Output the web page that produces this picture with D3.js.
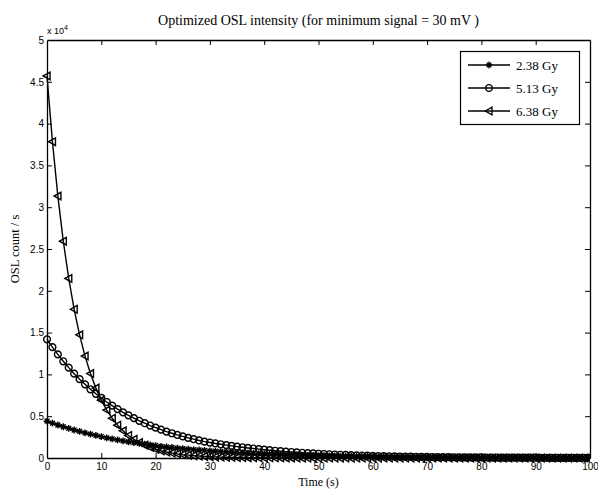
<!DOCTYPE html>
<html><head><meta charset="utf-8">
<script src="https://cdn.jsdelivr.net/npm/d3@7"></script>
<style>body{margin:0;background:#fff}svg{display:block}</style>
</head><body>
<svg id="c" width="598" height="491"></svg>
<script>
// ---- data ----
const timeSteps = d3.range(0, 101, 1); // seconds, one sample per second
const seriesNames = ["2.38 Gy", "5.13 Gy", "6.38 Gy"];
const gy238 = [4400,4167,3946,3737,3539,3351,3174,3005,2846,2695,2552,2417,2289,2168,2053,1944,1841,1743,1651,1563,1480,1402,1328,1257,1191,1128,1068,1011,958,907,859,813,770,729,691,654,619,587,556,526,498,472,447,423,401,380,360,340,322,305,289,274,259,246,233,220,209,197,187,177,168,159,150,142,135,128,121,114,108,103,97,92,87,82,78,74,70,66,63,59,56,53,50,48,45,43,40,38,36,34,32,31,29,27,26,25,23,22,21,20,19];
const gy513 = [14200,13260,12390,11570,10810,10090,9430,8810,8220,7680,7180,6700,6260,5850,5460,5100,4770,4450,4160,3880,3630,3390,3160,2960,2760,2580,2410,2250,2100,1960,1850,1740,1640,1540,1450,1360,1280,1200,1130,1060,990,930,870,815,765,715,670,625,585,545,510,476,445,415,388,362,338,316,295,275,257,240,224,209,195,182,170,159,148,138,129,120,112,105,98,91,85,79,74,69,64,60,56,52,49,46,43,40,37,35,33,30,28,26,25,23,21,20,19,17,16];
const gy638 = [45700,37840,31330,25940,21480,17790,14730,12190,10100,8360,6920,5730,4750,3930,3250,2690,2230,1850,1530,1270,1050,870,720,595,493,408,338,280,232,192,159,132,109,90,75,62,51,42,35,29,24,20,17,14,11,9,8,7,5,4,4,3,3,2,2,2,1,1,1,1,1,1,1,0,0,0,0,0,0,0,0,0,0,0,0,0,0,0,0,0,0,0,0,0,0,0,0,0,0,0,0,0,0,0,0,0,0,0,0,0,0];
const xTicks = [0,10,20,30,40,50,60,70,80,90,100];
const yTicks = [0,5000,10000,15000,20000,25000,30000,35000,40000,45000,50000];
const yTickLabels = ["0","0.5","1","1.5","2","2.5","3","3.5","4","4.5","5"];
const titleText = "Optimized OSL intensity (for minimum signal = 30 mV )";
const xLabel = "Time (s)";
const yLabel = "OSL count / s";

// ---- layout ----
const L = 47, R = 590, T = 40, B = 458;
const svg = d3.select("#c");
const x = d3.scaleLinear().domain([0,100]).range([L,R]);
const y = d3.scaleLinear().domain([0,50000]).range([B,T]);
const sans = "Liberation Sans, Arial, sans-serif";
const serif = "Liberation Serif, Times New Roman, serif";

// axes frame
const tickLen = 5;
const gx = svg.append("g").attr("transform",`translate(0,${B})`)
  .call(d3.axisBottom(x).tickValues(xTicks).tickSizeInner(-tickLen).tickSizeOuter(0).tickPadding(5));
const gxt = svg.append("g").attr("transform",`translate(0,${T})`)
  .call(d3.axisTop(x).tickValues(xTicks).tickSizeInner(-tickLen).tickSizeOuter(0).tickFormat(""));
const gy = svg.append("g").attr("transform",`translate(${L},0)`)
  .call(d3.axisLeft(y).tickValues(yTicks).tickSizeInner(-tickLen).tickSizeOuter(0).tickPadding(3)
    .tickFormat((d,i)=>yTickLabels[i]));
const gyr = svg.append("g").attr("transform",`translate(${R},0)`)
  .call(d3.axisRight(y).tickValues(yTicks).tickSizeInner(-tickLen).tickSizeOuter(0).tickFormat(""));
[gx,gxt,gy,gyr].forEach(g=>{
  g.selectAll(".domain").attr("stroke","#000").attr("stroke-width",1.3);
  g.selectAll(".tick line").attr("stroke","#000");
  g.selectAll("text").attr("font-family",sans).attr("font-size",10).attr("fill","#000");
});
gx.selectAll(".tick line").filter(d=>d===0||d===100).remove();
gxt.selectAll(".tick line").filter(d=>d===0||d===100).remove();
gy.selectAll(".tick line").filter(d=>d===0||d===50000).remove();
gyr.selectAll(".tick line").filter(d=>d===0||d===50000).remove();

// exponent label
const ex = svg.append("text").attr("x",L).attr("y",T-6).attr("font-family",sans).attr("font-size",9);
ex.append("tspan").text("x 10");
ex.append("tspan").attr("dy",-4).attr("font-size",7).text("4");

// titles
svg.append("text").attr("x",(L+R)/2).attr("y",25).attr("text-anchor","middle")
  .attr("font-family",serif).attr("font-size",14).text(titleText);
svg.append("text").attr("x",(L+R)/2).attr("y",486).attr("text-anchor","middle")
  .attr("font-family",serif).attr("font-size",12).text(xLabel);
svg.append("text").attr("transform",`translate(19,${(T+B)/2}) rotate(-90)`).attr("text-anchor","middle")
  .attr("font-family",serif).attr("font-size",12.5).text(yLabel);

// markers
function starPath(s){const r=s;const a=r*0.707;return `M${-r},0L${r},0M0,${-r}L0,${r}M${-a},${-a}L${a},${a}M${-a},${a}L${a},${-a}`;}
function circlePath(r){return `M${r},0A${r},${r},0,1,1,${-r},0A${r},${r},0,1,1,${r},0Z`;}
function triPath(s){return `M${-s},0L${s*0.8},${-s}L${s*0.8},${s}Z`;}
const markers = [()=>starPath(3.4), ()=>circlePath(3.4), ()=>triPath(3.8)];
const data = [gy238, gy513, gy638];

const clip = svg.append("clipPath").attr("id","pc").append("rect")
  .attr("x",L-8).attr("y",T-8).attr("width",R-L+8).attr("height",B-T+16);
const plot = svg.append("g").attr("clip-path","url(#pc)");
const line = d3.line().x((d,i)=>x(timeSteps[i])).y(d=>y(d));
data.forEach((vals,k)=>{
  plot.append("path").datum(vals).attr("d",line).attr("fill","none").attr("stroke","#000").attr("stroke-width",1.4);
  plot.selectAll(null).data(vals).join("path")
    .attr("transform",(d,i)=>`translate(${x(timeSteps[i])},${y(d)})`)
    .attr("d",markers[k]()).attr("fill","none").attr("stroke","#000").attr("stroke-width",1.4);
});

// legend
const lg = svg.append("g");
lg.append("rect").attr("x",460.5).attr("y",51.5).attr("width",119).attr("height",73)
  .attr("fill","#fff").attr("stroke","#000").attr("stroke-width",1.2);
seriesNames.forEach((n,k)=>{
  const yy = 65 + k*23;
  lg.append("line").attr("x1",468).attr("x2",510).attr("y1",yy).attr("y2",yy).attr("stroke","#000").attr("stroke-width",1.4);
  lg.append("path").attr("transform",`translate(489,${yy})`).attr("d",markers[k]()).attr("fill","none").attr("stroke","#000").attr("stroke-width",1.3);
  lg.append("text").attr("x",516).attr("y",yy+4.5).attr("font-family",serif).attr("font-size",13).text(n);
});
</script>
</body></html>
